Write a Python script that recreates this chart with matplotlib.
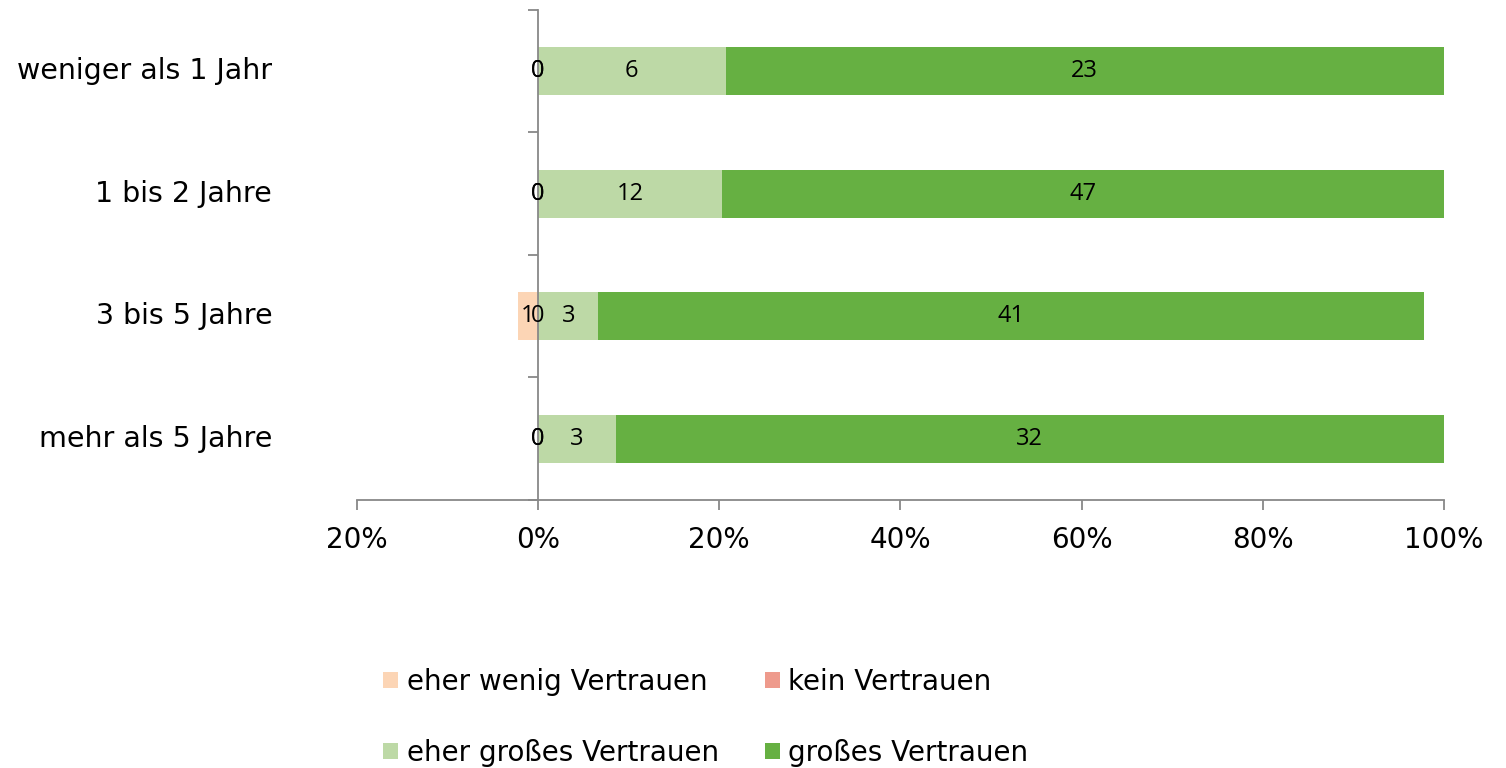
import matplotlib
matplotlib.use("Agg")
from matplotlib import pyplot as plt
import numpy as np

plt.rcParams["font.family"] = ["DejaVu Sans"]

categories = ["weniger als 1 Jahr", "1 bis 2 Jahre", "3 bis 5 Jahre", "mehr als 5 Jahre"]
eher_wenig = np.array([0, 0, 1, 0])
kein = np.array([0, 0, 0, 0])
eher_gross = np.array([6, 12, 3, 3])
gross = np.array([23, 47, 41, 32])

xticks = [-0.2, 0.0, 0.2, 0.4, 0.6, 0.8, 1.0]

colors = {"ew": "#FCD5B5", "k": "#EE9A8C", "eg": "#BDD9A6", "g": "#66B042"}
labels = {"ew": "eher wenig Vertrauen", "k": "kein Vertrauen",
          "eg": "eher großes Vertrauen", "g": "großes Vertrauen"}

total = eher_wenig + kein + eher_gross + gross
p_ew = eher_wenig / total
p_k = kein / total
p_eg = eher_gross / total
p_g = gross / total

fig = plt.figure(figsize=(15.06, 7.68), dpi=100)
ax = fig.add_axes([0.237, 0.349, 0.7218, 0.638])

y = np.arange(len(categories))
h = 0.39
bars = {}
# negative side: kein next to 0, then eher wenig
bars["k"] = ax.barh(y, -p_k, left=0, height=h, color=colors["k"], label=labels["k"])
bars["ew"] = ax.barh(y, -p_ew, left=-p_k, height=h, color=colors["ew"], label=labels["ew"])
bars["eg"] = ax.barh(y, p_eg, left=0, height=h, color=colors["eg"], label=labels["eg"])
bars["g"] = ax.barh(y, p_g, left=p_eg, height=h, color=colors["g"], label=labels["g"])

lab_font = dict(fontsize=17, family=["Open Sans", "DejaVu Sans"], ha="center", va="center")
for i in range(len(categories)):
    ax.text(-p_k[i] - p_ew[i] / 2, y[i], str(eher_wenig[i]), **lab_font)
    ax.text(-p_k[i] / 2, y[i], str(kein[i]), **lab_font)
    ax.text(p_eg[i] / 2, y[i], str(eher_gross[i]), **lab_font)
    ax.text(p_eg[i] + p_g[i] / 2, y[i], str(gross[i]), **lab_font)

ax.set_xlim(-0.2, 1.0)
ax.set_ylim(len(categories) - 0.5, -0.5)
ax.set_xticks(xticks)
ax.set_xticklabels(["%d%%" % round(abs(v) * 100) for v in xticks], fontsize=20)
ax.tick_params(axis="x", length=7, width=1.3, color="#888888", pad=12)

for s in ["top", "right"]:
    ax.spines[s].set_visible(False)
ax.spines["bottom"].set_color("#888888")
ax.spines["bottom"].set_linewidth(1.3)
ax.spines["left"].set_position(("data", 0))
ax.spines["left"].set_color("#888888")
ax.spines["left"].set_linewidth(1.3)
ax.set_yticks(np.arange(len(categories) + 1) - 0.5)
ax.set_yticklabels([])
ax.tick_params(axis="y", length=7, width=1.3, color="#888888")

for i, c in enumerate(categories):
    ax.text(-0.078, y[i], c, transform=ax.get_yaxis_transform(), ha="right", va="center", fontsize=20.5)

order = ["ew", "eg", "k", "g"]
fig.legend([bars[o] for o in order], [labels[o] for o in order], ncol=2,
           loc="lower left", bbox_to_anchor=(0.2377, -0.031), frameon=False, fontsize=20,
           handlelength=0.55, handleheight=0.55, handletextpad=0.3, columnspacing=1.65,
           labelspacing=1.55)

fig.savefig("out.png", dpi=100)
